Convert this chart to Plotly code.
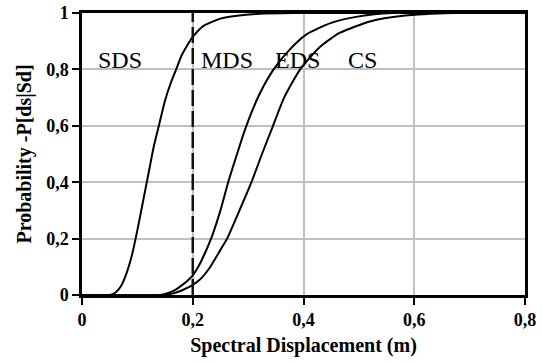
import plotly.graph_objects as go

# Data
sds_x = [0.0, 0.05, 0.06, 0.07, 0.08, 0.09, 0.10, 0.11, 0.12, 0.13, 0.14, 0.15, 0.16, 0.17, 0.18, 0.19, 0.20, 0.22, 0.25, 0.28, 0.32, 0.38, 0.8]
sds_y = [0.0, 0.0, 0.008, 0.03, 0.075, 0.14, 0.23, 0.33, 0.43, 0.53, 0.61, 0.69, 0.75, 0.80, 0.85, 0.885, 0.915, 0.955, 0.98, 0.99, 0.997, 1.0, 1.0]

mds_x = [0.2, 0.2]
mds_y = [0.0, 1.0]

eds_x = [0.0, 0.14, 0.15, 0.16, 0.17, 0.18, 0.19, 0.20, 0.21, 0.22, 0.235, 0.25, 0.264, 0.28, 0.295, 0.32, 0.346, 0.375, 0.406, 0.45, 0.50, 0.56, 0.8]
eds_y = [0.0, 0.0, 0.004, 0.01, 0.02, 0.034, 0.05, 0.07, 0.10, 0.14, 0.21, 0.30, 0.40, 0.50, 0.59, 0.71, 0.80, 0.87, 0.925, 0.965, 0.988, 1.0, 1.0]

cs_x = [0.0, 0.15, 0.16, 0.17, 0.18, 0.19, 0.20, 0.213, 0.23, 0.25, 0.262, 0.28, 0.306, 0.325, 0.343, 0.365, 0.394, 0.43, 0.466, 0.52, 0.58, 0.67, 0.8]
cs_y = [0.0, 0.0, 0.004, 0.009, 0.016, 0.025, 0.036, 0.055, 0.095, 0.16, 0.20, 0.28, 0.40, 0.50, 0.59, 0.70, 0.80, 0.88, 0.93, 0.97, 0.99, 1.0, 1.0]

labels = ["SDS", "MDS", "EDS", "CS"]
label_x = [0.068, 0.262, 0.389, 0.506]
label_y = [0.78, 0.78, 0.78, 0.78]

x_tickvals = [0, 0.2, 0.4, 0.6, 0.8]
x_ticktext = ["0", "0,2", "0,4", "0,6", "0,8"]
y_tickvals = [0, 0.2, 0.4, 0.6, 0.8, 1.0]
y_ticktext = ["0", "0,2", "0,4", "0,6", "0,8", "1"]

serif = "Liberation Serif"

fig = go.Figure()
for xs, ys in [(sds_x, sds_y), (eds_x, eds_y), (cs_x, cs_y)]:
    fig.add_trace(go.Scatter(x=xs, y=ys, mode="lines",
                             line=dict(color="black", width=2, shape="spline", smoothing=0.6),
                             showlegend=False, hoverinfo="skip"))
fig.add_trace(go.Scatter(x=mds_x, y=mds_y, mode="lines",
                         line=dict(color="#111111", width=2.5, dash="16px,5px"),
                         showlegend=False, hoverinfo="skip"))

for t, lx, ly in zip(labels, label_x, label_y):
    fig.add_annotation(x=lx, y=ly, text=t, showarrow=False,
                       font=dict(family=serif, size=24, color="black"),
                       xanchor="center", yanchor="bottom")

axis_common = dict(
    showgrid=True, gridcolor="#c0c0c0", gridwidth=2,
    showline=True, linecolor="black", linewidth=2.5, mirror=True,
    ticks="outside", ticklen=7, tickwidth=2, tickcolor="black",
    zeroline=False, automargin=False,
    tickfont=dict(family=serif, size=18, color="black", weight="bold"),
)

fig.update_xaxes(range=[0, 0.8], tickvals=x_tickvals, ticktext=x_ticktext,
                 title=dict(text="<b>Spectral Displacement (m)</b>",
                            font=dict(family=serif, size=20, color="black"), standoff=9),
                 **axis_common)
fig.update_yaxes(range=[0, 1], tickvals=y_tickvals, ticktext=y_ticktext,
                 title=dict(text="<b>Probability -P[ds|Sd]</b>",
                            font=dict(family=serif, size=20, color="black"), standoff=10),
                 **axis_common)

fig.update_layout(width=542, height=363,
                  margin=dict(l=82, r=17, t=13, b=68),
                  plot_bgcolor="white", paper_bgcolor="white",
                  font=dict(family=serif))

fig.write_html("out.html")
